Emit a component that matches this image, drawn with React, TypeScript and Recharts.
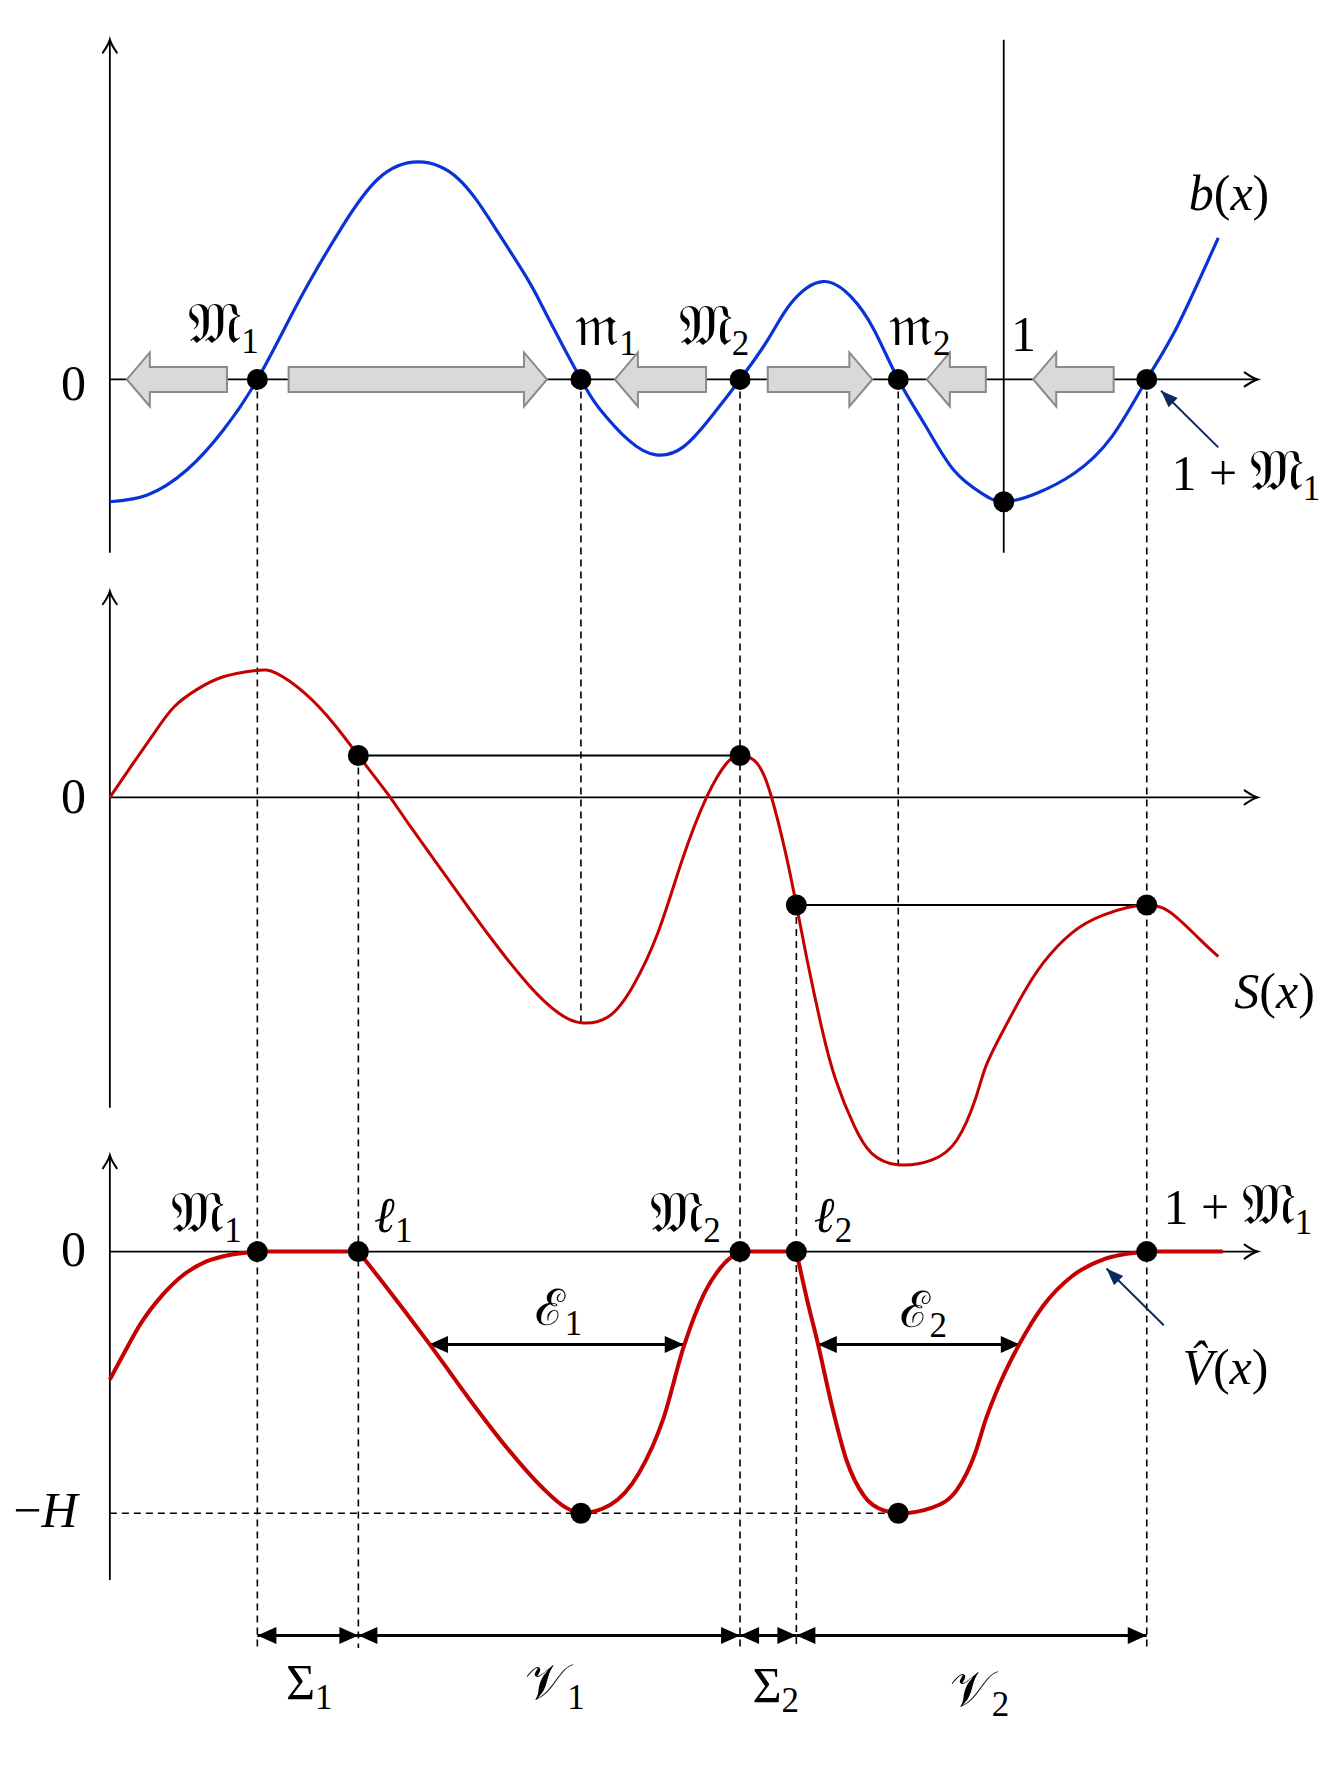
import React from 'react';
import { ComposedChart, Line, Scatter, XAxis, YAxis, ReferenceLine } from 'recharts';

// x is measured in periods (the vertical line "1" sits at x = 1),
// y in panel units; each panel has its own zero line.
const TOP = -3.35;
const MID = -7.04;
const BOT = -11.05;

// landmarks
const M1 = 0.165;
const m1 = 0.527;
const M2 = 0.705;
const m2 = 0.882;
const L1 = 0.278;
const L2 = 0.768;
const P1 = 1.16; // 1 + M1
const depthH = -2.31;
const sL1 = 0.37;
const sL2 = -0.95;

const bCurve = [
  [0, -1.08], [0.042, -1.02], [0.086, -0.8], [0.127, -0.446], [0.165, 0], [0.2, 0.52],
  [0.226, 0.9], [0.26, 1.35], [0.3, 1.77], [0.345, 1.92], [0.39, 1.77], [0.43, 1.35],
  [0.467, 0.89], [0.49, 0.55], [0.527, 0], [0.548, -0.26], [0.58, -0.534], [0.611, -0.666],
  [0.642, -0.593], [0.673, -0.328], [0.705, 0], [0.736, 0.349], [0.762, 0.673], [0.797, 0.864],
  [0.829, 0.731], [0.855, 0.437], [0.882, 0], [0.913, -0.416], [0.944, -0.8], [0.975, -1.004],
  [1.0, -1.08], [1.037, -1.004], [1.079, -0.828], [1.121, -0.505], [1.16, 0], [1.194, 0.466],
  [1.24, 1.25],
];

const sCurve = [
  [0, 0], [0.026, 0.3], [0.049, 0.56], [0.072, 0.8], [0.099, 0.96], [0.127, 1.065],
  [0.163, 1.12], [0.186, 1.097], [0.218, 0.92], [0.25, 0.655], [0.278, 0.37], [0.31, 0.04],
  [0.333, -0.22], [0.379, -0.728], [0.425, -1.228], [0.47, -1.669], [0.502, -1.904], [0.527, -1.99],
  [0.558, -1.934], [0.585, -1.669], [0.613, -1.198], [0.64, -0.56], [0.668, 0.008], [0.69, 0.302],
  [0.705, 0.37], [0.724, 0.302], [0.74, 0.008], [0.756, -0.492], [0.768, -0.95], [0.78, -1.434],
  [0.796, -2.022], [0.812, -2.493], [0.833, -2.905], [0.852, -3.14], [0.881, -3.243], [0.92, -3.2],
  [0.948, -3.02], [0.968, -2.67], [0.98, -2.375], [0.998, -2.08], [1.02, -1.758], [1.044, -1.463],
  [1.076, -1.198], [1.112, -1.037], [1.16, -0.95], [1.192, -1.05], [1.22, -1.258], [1.24, -1.405],
];

const vCurve = [
  [0, -1.13], [0.016, -0.895], [0.035, -0.63], [0.057, -0.4], [0.08, -0.22], [0.108, -0.087],
  [0.135, -0.028], [0.165, 0], [0.278, 0], [0.309, -0.31], [0.357, -0.81], [0.4, -1.28],
  [0.446, -1.75], [0.482, -2.07], [0.51, -2.26], [0.527, -2.31], [0.56, -2.235], [0.592, -1.955],
  [0.619, -1.48], [0.642, -0.84], [0.665, -0.37], [0.688, -0.1], [0.705, 0], [0.768, 0],
  [0.78, -0.425], [0.792, -0.81], [0.808, -1.37], [0.824, -1.84], [0.844, -2.16], [0.864, -2.28],
  [0.884, -2.31], [0.92, -2.26], [0.948, -2.1], [0.968, -1.78], [0.98, -1.48], [0.996, -1.16],
  [1.018, -0.81], [1.044, -0.48], [1.076, -0.22], [1.111, -0.07], [1.16, 0], [1.245, 0],
];

const topDots = [[M1, 0], [m1, 0], [M2, 0], [m2, 0], [P1, 0], [1, -1.08]];
const midDots = [[L1, sL1], [M2, sL1], [L2, sL2], [P1, sL2]];
const botDots = [[M1, 0], [L1, 0], [M2, 0], [L2, 0], [P1, 0], [m1, depthH], [m2, depthH]];

// gray flow arrows on the top axis: [from, to]
const flowArrows = [[0.131, 0.019], [0.2, 0.489], [0.667, 0.565], [0.736, 0.853], [0.98, 0.914], [1.123, 1.033]];

// interval arrows
const measureY = -14.44;
const measures = [[M1, L1], [L1, M2], [M2, L2], [L2, P1]];
const epsY = -0.82;
const epsArrows = [[0.357, 0.642], [0.792, 1.018]];

const FRAK_M = '\u{1D510}';
const FRAK_m = '\u{1D52A}';
const SCR_V = '\u{1D4B1}';
const SCR_E = '\u2130';

type Part = { t: string; i?: boolean; sub?: boolean; big?: boolean };
const labels: { x: number; y: number; parts: Part[] }[] = [
  { x: -0.0406, y: -3.53, parts: [{ t: '0' }] },
  { x: 0.127, y: -3.03, parts: [{ t: FRAK_M, big: true }, { t: '1', sub: true }] },
  { x: 0.555, y: -3.05, parts: [{ t: FRAK_m, big: true }, { t: '1', sub: true }] },
  { x: 0.676, y: -3.05, parts: [{ t: FRAK_M, big: true }, { t: '2', sub: true }] },
  { x: 0.906, y: -3.05, parts: [{ t: FRAK_m, big: true }, { t: '2', sub: true }] },
  { x: 1.022, y: -3.1, parts: [{ t: '1' }] },
  { x: 1.252, y: -1.85, parts: [{ t: 'b', i: true }, { t: '(' }, { t: 'x', i: true }, { t: ')' }] },
  { x: 1.271, y: -4.33, parts: [{ t: '1 + ' }, { t: FRAK_M, big: true }, { t: '1', sub: true }] },
  { x: -0.0406, y: -7.18, parts: [{ t: '0' }] },
  { x: 1.303, y: -8.9, parts: [{ t: 'S', i: true }, { t: '(' }, { t: 'x', i: true }, { t: ')' }] },
  { x: -0.0406, y: -11.18, parts: [{ t: '0' }] },
  { x: 0.108, y: -10.88, parts: [{ t: FRAK_M, big: true }, { t: '1', sub: true }] },
  { x: 0.317, y: -10.88, parts: [{ t: '\u2113', i: true }, { t: '1', sub: true }] },
  { x: 0.644, y: -10.88, parts: [{ t: FRAK_M, big: true }, { t: '2', sub: true }] },
  { x: 0.809, y: -10.88, parts: [{ t: '\u2113', i: true }, { t: '2', sub: true }] },
  { x: 1.262, y: -10.81, parts: [{ t: '1 + ' }, { t: FRAK_M, big: true }, { t: '1', sub: true }] },
  { x: 0.502, y: -11.7, parts: [{ t: SCR_E }, { t: '1', sub: true }] },
  { x: 0.91, y: -11.72, parts: [{ t: SCR_E }, { t: '2', sub: true }] },
  { x: 1.248, y: -12.22, parts: [{ t: 'V\u0302', i: true }, { t: '(' }, { t: 'x', i: true }, { t: ')' }] },
  { x: -0.072, y: -13.48, parts: [{ t: '\u2212' }, { t: 'H', i: true }] },
  { x: 0.223, y: -15.0, parts: [{ t: '\u03A3' }, { t: '1', sub: true }] },
  { x: 0.498, y: -15.0, parts: [{ t: SCR_V }, { t: '1', sub: true }] },
  { x: 0.745, y: -15.03, parts: [{ t: '\u03A3' }, { t: '2', sub: true }] },
  { x: 0.973, y: -15.06, parts: [{ t: SCR_V }, { t: '2', sub: true }] },
];

const BLUE = '#0a33d6';
const RED = '#c40000';
const NAVY = '#0b2a62';
const FONT = '"Liberation Serif", "Times New Roman", serif';
const FS = 50;

const toPts = (arr: number[][], off: number) => arr.map(([x, y]) => ({ x, y: off + y }));
const between = (arr: number[][], a: number, b: number) => arr.filter(([x]) => x >= a - 1e-9 && x <= b + 1e-9);

const AxisArrow = (p: any) => {
  const { x1, y1, x2, y2 } = p;
  const a = Math.atan2(y2 - y1, x2 - x1);
  const c = Math.cos(a), s = Math.sin(a);
  const L = 13, w = 7;
  const bx = x2 - L * c, by = y2 - L * s;
  const qx = x2 - L * 0.4 * c, qy = y2 - L * 0.4 * s;
  return (
    <g>
      <line x1={x1} y1={y1} x2={x2} y2={y2} stroke="#000" strokeWidth={1.8} />
      <path
        d={`M${bx - s * w},${by + c * w} Q${qx - s * 1.5},${qy + c * 1.5} ${x2},${y2} Q${qx + s * 1.5},${qy - c * 1.5} ${bx + s * w},${by - c * w}`}
        fill="none" stroke="#000" strokeWidth={2} strokeLinecap="round"
      />
    </g>
  );
};

const head = (tx: number, ty: number, a: number, L: number, w: number) => {
  const c = Math.cos(a), s = Math.sin(a);
  const bx = tx - L * c, by = ty - L * s;
  return `M${tx},${ty} L${bx - s * w},${by + c * w} L${bx + s * w},${by - c * w} Z`;
};

const DoubleArrow = (p: any) => {
  const { x1, y1, x2, y2 } = p;
  const a = Math.atan2(y2 - y1, x2 - x1);
  return (
    <g>
      <line x1={x1} y1={y1} x2={x2} y2={y2} stroke="#000" strokeWidth={3} />
      <path d={head(x2, y2, a, 19, 8.5)} fill="#000" />
      <path d={head(x1, y1, a + Math.PI, 19, 8.5)} fill="#000" />
    </g>
  );
};

const Pointer = (p: any) => {
  const { x1, y1, x2, y2 } = p;
  const a = Math.atan2(y2 - y1, x2 - x1);
  return (
    <g>
      <line x1={x1} y1={y1} x2={x2} y2={y2} stroke={NAVY} strokeWidth={2} />
      <path d={head(x2, y2, a, 17, 6.5)} fill={NAVY} />
    </g>
  );
};

const BlockArrow = (p: any) => {
  const { x1, y1, x2 } = p;
  const dir = x2 > x1 ? 1 : -1;
  const bh = 12.5, hh = 27, hl = 23;
  const nx = x2 - dir * hl;
  const d = `M${x1},${y1 - bh} L${nx},${y1 - bh} L${nx},${y1 - hh} L${x2},${y1} L${nx},${y1 + hh} L${nx},${y1 + bh} L${x1},${y1 + bh} Z`;
  return <path d={d} fill="#d9d9d9" stroke="#8a8a8a" strokeWidth={2} />;
};

const Dot = (p: any) => <circle cx={p.cx} cy={p.cy} r={10.5} fill="#000" />;

const LabelShape = (p: any) => {
  const { cx, cy, payload } = p;
  let prevSub = false;
  return (
    <text x={cx} y={cy} textAnchor="middle" fontFamily={FONT} fontSize={FS} fill="#000">
      {payload.parts.map((pt: Part, k: number) => {
        const dy = pt.sub && !prevSub ? 10 : !pt.sub && prevSub ? -10 : 0;
        prevSub = !!pt.sub;
        const size = pt.sub ? 35 : pt.big ? 58 : FS;
        return (
          <tspan key={k} dy={dy} fontSize={size} fontStyle={pt.i ? 'italic' : 'normal'}>
            {pt.t}
          </tspan>
        );
      })}
    </text>
  );
};

const seg = (x1: number, y1: number, x2: number, y2: number) => [{ x: x1, y: y1 }, { x: x2, y: y2 }];

const redLine = (pts: number[][], w: number, key: string) => (
  <Line key={key} data={toPts(pts, BOT)} dataKey="y" type="monotone" stroke={RED} strokeWidth={w} dot={false} isAnimationActive={false} />
);

export default function App() {
  const dashed = { stroke: '#000', strokeWidth: 1.6, strokeDasharray: '7 5' };
  const vPieces = [
    between(vCurve, 0, M1), between(vCurve, M1, L1), between(vCurve, L1, M2),
    between(vCurve, M2, L2), between(vCurve, L2, P1), between(vCurve, P1, 2),
  ];
  return (
    <div style={{ position: 'absolute', left: 0, top: 0, width: 1330, height: 1776, background: '#fff' }}>
      <ComposedChart width={1330} height={1776} margin={{ top: 0, right: 0, bottom: 0, left: 0 }}>
        <XAxis dataKey="x" type="number" domain={[-0.1229, 1.365]} hide allowDataOverflow />
        <YAxis dataKey="y" type="number" domain={[-15.68, 0]} hide allowDataOverflow />

        {/* dashed guides */}
        <ReferenceLine segment={seg(M1, TOP, M1, -14.55)} {...dashed} />
        <ReferenceLine segment={seg(m1, TOP, m1, MID - 1.99)} {...dashed} />
        <ReferenceLine segment={seg(M2, TOP, M2, -14.55)} {...dashed} />
        <ReferenceLine segment={seg(m2, TOP, m2, MID - 3.24)} {...dashed} />
        <ReferenceLine segment={seg(P1, TOP, P1, -14.55)} {...dashed} />
        <ReferenceLine segment={seg(L1, MID + sL1, L1, -14.55)} {...dashed} />
        <ReferenceLine segment={seg(L2, MID + sL2, L2, -14.55)} {...dashed} />
        <ReferenceLine segment={seg(0, BOT + depthH, m2, BOT + depthH)} {...dashed} />

        {/* axes */}
        <ReferenceLine segment={seg(0, -4.88, 0, -0.35)} shape={AxisArrow} />
        <ReferenceLine segment={seg(0, TOP, 1.284, TOP)} shape={AxisArrow} />
        <ReferenceLine segment={seg(1, -4.88, 1, -0.35)} stroke="#000" strokeWidth={1.8} />
        <ReferenceLine segment={seg(0, -9.78, 0, -5.22)} shape={AxisArrow} />
        <ReferenceLine segment={seg(0, MID, 1.284, MID)} shape={AxisArrow} />
        <ReferenceLine segment={seg(0, -13.95, 0, -10.2)} shape={AxisArrow} />
        <ReferenceLine segment={seg(0, BOT, 1.284, BOT)} shape={AxisArrow} />

        {/* level lines in the S panel */}
        <ReferenceLine segment={seg(L1, MID + sL1, M2, MID + sL1)} stroke="#000" strokeWidth={1.8} />
        <ReferenceLine segment={seg(L2, MID + sL2, P1, MID + sL2)} stroke="#000" strokeWidth={1.8} />

        {flowArrows.map(([a, b], k) => (
          <ReferenceLine key={`f${k}`} segment={seg(a, TOP, b, TOP)} shape={BlockArrow} />
        ))}
        {measures.map(([a, b], k) => (
          <ReferenceLine key={`m${k}`} segment={seg(a, measureY, b, measureY)} shape={DoubleArrow} />
        ))}
        {epsArrows.map(([a, b], k) => (
          <ReferenceLine key={`e${k}`} segment={seg(a, BOT + epsY, b, BOT + epsY)} shape={DoubleArrow} />
        ))}
        <ReferenceLine segment={seg(1.24, -3.95, 1.176, -3.45)} shape={Pointer} />
        <ReferenceLine segment={seg(1.179, -11.7, 1.115, -11.2)} shape={Pointer} />

        <Line data={toPts(bCurve, TOP)} dataKey="y" type="natural" stroke={BLUE} strokeWidth={3.2} dot={false} isAnimationActive={false} />
        <Line data={toPts(sCurve, MID)} dataKey="y" type="natural" stroke={RED} strokeWidth={3} dot={false} isAnimationActive={false} />
        {vPieces.map((pc, k) => redLine(pc, 4, `v${k}`))}

        <Scatter data={toPts(topDots, TOP)} dataKey="y" shape={Dot} isAnimationActive={false} />
        <Scatter data={toPts(midDots, MID)} dataKey="y" shape={Dot} isAnimationActive={false} />
        <Scatter data={toPts(botDots, BOT)} dataKey="y" shape={Dot} isAnimationActive={false} />
        <Scatter data={labels} dataKey="y" shape={LabelShape} isAnimationActive={false} />
      </ComposedChart>
    </div>
  );
}
